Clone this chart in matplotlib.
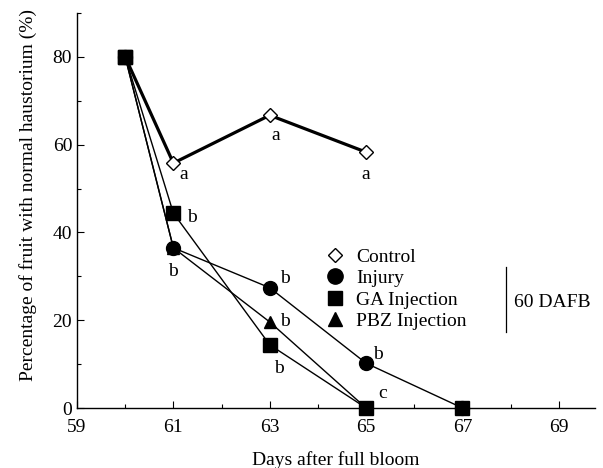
import matplotlib
matplotlib.use("Agg")
import matplotlib.pyplot as plt
from matplotlib.ticker import MultipleLocator

plt.rcParams['font.family'] = ['Liberation Serif', 'DejaVu Serif']

days_control = [60, 61, 63, 65]
control = [80, 55.8, 66.7, 58.3]
days_injury = [60, 61, 63, 65, 67]
injury = [80, 36.5, 27.4, 10.2, 0]
days_ga = [60, 61, 63, 65]
ga = [80, 44.4, 14.4, 0]
days_pbz = [60, 61, 63, 65]
pbz = [80, 36.5, 19.6, 0]

xticks = [59, 61, 63, 65, 67, 69]
yticks = [0, 20, 40, 60, 80]

fig = plt.figure(figsize=(6.03, 4.68), dpi=100)
ax = fig.add_axes([0.1277, 0.1282, 0.859, 0.844])

ax.plot(days_pbz, pbz, color='black', lw=1.0, marker='^', ms=9, zorder=3)
ax.plot(days_ga, ga, color='black', lw=1.0, marker='s', ms=10, zorder=3)
ax.plot(days_injury, injury, color='black', lw=1.0, marker='o', ms=10, zorder=3)
ax.plot(days_injury[-1:], injury[-1:], color='black', lw=0, marker='s', ms=10, zorder=4)
ax.plot(days_control, control, color='black', lw=2.3, marker='D', ms=7.5,
        mfc='white', mec='black', mew=1.0, zorder=5)
ax.plot(days_ga[:1], ga[:1], color='black', lw=0, marker='s', ms=10, zorder=6)

fs = 14
def lab(x, y, s):
    ax.text(x, y, s, fontsize=fs, ha='center', va='center')

# Control letters
lab(61.22, 53.3, 'a')
lab(63.13, 62.0, 'a')
lab(65.0, 53.1, 'a')
# Injury letters
lab(60.99, 31.0, 'b')
lab(63.32, 29.4, 'b')
lab(65.24, 12.1, 'b')
# GA letters
lab(61.39, 43.5, 'b')
lab(63.19, 9.1, 'b')
# PBZ
lab(63.32, 19.6, 'b')
# c
lab(65.35, 3.4, 'c')

ax.set_xlim(59, 69.75)
ax.set_ylim(0, 90)
ax.set_xticks(xticks)
ax.set_yticks(yticks)
ax.xaxis.set_minor_locator(MultipleLocator(1))
ax.yaxis.set_minor_locator(MultipleLocator(10))
ax.tick_params(which='both', direction='in', labelsize=fs, width=0.8)
ax.tick_params(which='major', length=5)
ax.tick_params(which='minor', length=3)
ax.tick_params(axis='x', pad=8)
for s in ['top', 'right']:
    ax.spines[s].set_visible(False)
for s in ['left', 'bottom']:
    ax.spines[s].set_linewidth(1.0)
for line in ax.lines:
    line.set_clip_on(False)

ax.set_xlabel('Days after full bloom', fontsize=fs, labelpad=11)
ax.set_ylabel('Percentage of fruit with normal haustorium (%)', fontsize=fs)
ax.yaxis.set_label_coords(-0.078, 0.54)

leg = ax.legend(
    handles=[
        plt.Line2D([], [], lw=0, marker='D', ms=7.5, mfc='white', mec='black'),
        plt.Line2D([], [], lw=0, marker='o', ms=11, color='black'),
        plt.Line2D([], [], lw=0, marker='s', ms=10, color='black'),
        plt.Line2D([], [], lw=0, marker='^', ms=10, color='black'),
    ],
    labels=['Control', 'Injury', 'GA Injection', 'PBZ Injection'],
    loc='upper left', bbox_to_anchor=(0.48, 0.405), frameon=False,
    fontsize=fs, handlelength=1.0, handletextpad=0.55, labelspacing=0.2,
    borderpad=0, borderaxespad=0)

ax.plot([67.9, 67.9], [17.3, 32.1], color='black', lw=0.9, clip_on=False)
ax.text(68.07, 24.1, '60 DAFB', fontsize=fs, ha='left', va='center')

fig.savefig('out.png', dpi=100)
